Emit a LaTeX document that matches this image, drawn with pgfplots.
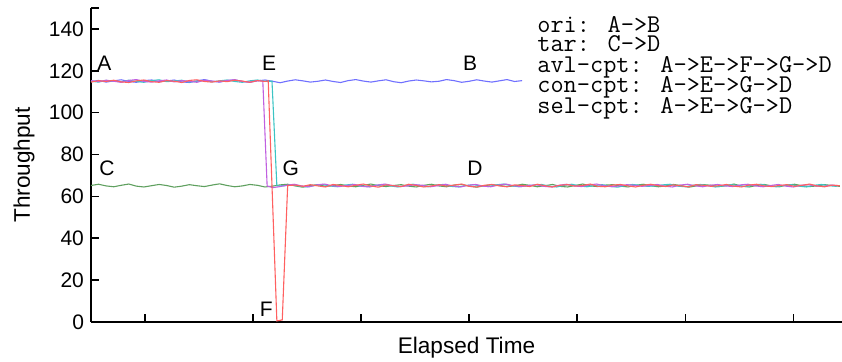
\documentclass[border=0pt]{standalone}
\usepackage{fontspec}
\setmainfont{Liberation Sans}
\usepackage{pgfplots}
\pgfplotsset{compat=1.18}
\definecolor{cori}{HTML}{7070FF}
\definecolor{ctar}{HTML}{5FA05F}
\definecolor{cavl}{HTML}{FF6060}
\definecolor{ccon}{HTML}{3CC4C4}
\definecolor{csel}{HTML}{C060E0}
\begin{document}
\begin{tikzpicture}
\begin{axis}[
  scale only axis, width=375.5pt, height=157pt,
  xmin=0, xmax=695, ymin=0, ymax=150,
  axis x line*=bottom, axis y line*=left,
  axis line style={line width=0.8pt, -},
  xtick={50,150,...,650}, xticklabels={},
  ytick={0,20,...,140}, extra y ticks={150}, extra y tick labels={},
  tick align=inside, major tick length=4pt,
  tick style={black, line width=0.8pt},
  /pgf/number format/assume math mode=true,
  ticklabel style={font=\fontsize{10.5}{12}\selectfont},
  ylabel={Throughput}, xlabel={Elapsed Time},
  label style={font=\fontsize{11.3}{13}\selectfont},
  ylabel style={at={(rel axis cs:0,0.5)}, anchor=center, yshift=33.5pt},
  xlabel style={at={(rel axis cs:0.5,0)}, anchor=base, yshift=-16pt},
  clip=false,
  every axis plot/.append style={line width=0.55pt, no markers},
]
% tar: C->D
\addplot[ctar] table {
0 65.2
7 65.8
14 65.0
21 64.6
28 65.3
35 65.9
42 64.9
49 64.5
56 65.1
63 65.7
70 65.2
77 64.4
84 64.9
91 65.6
98 65.1
105 64.7
112 65.4
119 66.0
126 65.2
133 64.6
140 65.0
147 65.7
154 65.3
161 64.5
168 64.9
175 65.5
182 65.8
189 65.0
196 64.4
203 65.2
210 65.6
217 64.8
224 65.1
231 65.7
238 65.0
245 64.6
252 65.3
259 65.9
266 65.1
273 64.7
280 65.2
287 65.6
294 64.9
301 64.5
308 65.3
315 65.8
322 65.0
329 64.6
336 65.4
343 65.7
350 64.9
357 64.4
364 65.1
371 65.6
378 65.2
385 64.7
392 65.0
399 65.8
406 65.3
413 64.6
420 65.1
427 65.7
434 64.8
441 64.5
448 65.2
455 65.9
462 65.0
469 64.7
476 65.4
483 65.6
490 64.9
497 64.5
504 65.3
511 65.8
518 65.1
525 64.6
532 65.0
539 65.7
546 65.2
553 64.4
560 65.0
567 65.6
574 65.3
581 64.7
588 65.1
595 65.9
602 64.9
609 64.5
616 65.2
623 65.7
630 65.0
637 64.6
644 65.4
651 65.8
658 65.1
665 64.7
672 65.0
679 65.6
686 65.2
693 64.8
};
% ori: A->B
\addplot[cori] table {
0 114.8
7 115.4
14 114.6
21 115.2
28 115.7
35 114.9
42 114.5
49 115.3
56 115.6
63 114.8
70 115.1
77 115.6
84 114.7
91 114.4
98 115.2
105 115.8
112 115.0
119 114.6
126 115.3
133 115.7
140 114.9
147 114.5
154 115.2
161 115.6
168 115.0
175 114.3
182 115.1
189 115.7
196 115.2
203 114.6
210 115.0
217 115.6
224 114.9
231 114.4
238 115.3
245 115.8
252 115.1
259 114.6
266 115.2
273 115.7
280 114.8
287 114.3
294 115.1
301 115.6
308 115.2
315 114.7
322 115.0
329 115.8
336 115.3
343 114.5
350 115.0
357 115.7
364 115.1
371 114.6
378 115.2
385 115.8
392 114.9
399 115.3
};
% con-cpt
\addplot[ccon] table {
0 115.0
7 114.6
14 115.4
21 115.1
28 114.7
35 115.5
42 114.9
49 114.5
56 115.3
63 115.7
70 114.8
77 115.1
84 115.5
91 114.6
98 115.0
105 115.4
112 114.7
119 115.2
126 115.6
133 114.9
140 114.5
147 115.2
154 115.6
161 115.0
167.5 115.0
172 65.0
179 65.1
186 65.6
193 64.9
200 64.5
207 65.2
214 65.7
221 65.0
228 64.6
235 65.4
242 65.8
249 64.9
256 64.7
263 65.3
270 65.6
277 65.0
284 64.5
291 65.2
298 65.8
305 65.1
312 64.6
319 65.4
326 65.7
333 64.8
340 64.5
347 65.2
354 65.6
361 65.0
368 64.7
375 65.5
382 65.9
389 65.1
396 64.6
403 65.0
410 65.4
417 65.7
424 64.9
431 64.5
438 65.3
445 65.8
452 65.0
459 64.6
466 65.2
473 65.6
480 64.9
487 64.4
494 65.1
501 65.7
508 65.3
515 64.8
522 65.0
529 65.5
536 65.8
543 64.9
550 64.6
557 65.3
564 65.7
571 65.1
578 64.5
585 65.0
592 65.6
599 65.2
606 64.7
613 65.4
620 65.8
627 65.0
634 64.6
641 65.2
648 65.6
655 64.9
662 64.5
669 65.3
676 65.7
683 65.1
690 64.8
};
% sel-cpt
\addplot[csel] table {
0 115.3
7 114.8
14 115.5
21 115.0
28 114.5
35 115.4
42 115.8
49 114.9
56 114.6
63 115.2
70 115.6
77 114.7
84 115.3
91 115.0
98 114.5
105 115.5
112 115.1
119 114.7
126 115.4
133 115.7
140 114.9
147 114.6
154 115.3
159 115.1
163 65.0
168 64.2
174 64.6
181 65.3
188 65.8
195 65.0
202 64.6
209 65.5
216 65.9
223 65.1
230 64.7
237 65.2
244 65.7
251 64.8
258 64.5
265 65.4
272 65.9
279 65.2
286 64.7
293 65.0
300 65.6
307 65.3
314 64.6
321 65.1
328 65.8
335 65.0
342 64.5
349 65.3
356 65.7
363 64.9
370 64.6
377 65.4
384 65.9
391 65.1
398 64.7
405 65.2
412 65.6
419 64.8
426 64.5
433 65.3
440 65.8
447 65.0
454 64.7
461 65.5
468 65.9
475 65.1
482 64.6
489 65.0
496 65.6
503 65.3
510 64.8
517 65.2
524 65.7
531 64.9
538 64.5
545 65.4
552 65.8
559 65.1
566 64.6
573 65.3
580 65.7
587 65.0
594 64.7
601 65.5
608 65.8
615 65.0
622 64.6
629 65.2
636 65.7
643 64.9
650 64.5
657 65.3
664 65.6
671 65.0
678 64.7
685 65.4
692 65.1
};
% avl-cpt
\addplot[cavl] table {
0 114.6
7 115.3
14 114.9
21 115.5
28 114.7
35 114.4
42 115.2
49 115.6
56 114.8
63 114.5
70 115.3
77 115.0
84 114.4
91 115.4
98 115.7
105 114.9
112 114.6
119 115.2
126 114.8
133 115.5
140 115.1
147 114.5
154 115.3
161 114.9
164 115.2
172 0.5
177 1.0
182 65.2
189 65.4
196 64.8
203 65.6
210 65.0
217 64.5
224 65.7
231 65.2
238 64.6
245 65.3
252 65.9
259 65.0
266 64.4
273 65.5
280 65.1
287 64.7
294 65.8
301 65.2
308 64.5
315 65.0
322 65.6
329 64.9
336 65.4
343 65.9
350 64.8
357 64.5
364 65.3
371 65.7
378 65.0
385 64.6
392 65.5
399 65.2
406 64.7
413 65.8
420 65.1
427 64.5
434 65.3
441 65.6
448 64.9
455 65.2
462 65.9
469 64.8
476 64.6
483 65.4
490 65.7
497 65.0
504 64.5
511 65.3
518 65.8
525 65.1
532 64.7
539 65.5
546 65.0
553 64.6
560 65.6
567 65.3
574 64.8
581 65.1
588 65.7
595 64.9
602 64.5
609 65.4
616 65.8
623 65.0
630 64.7
637 65.2
644 65.6
651 64.8
658 65.3
665 65.9
672 65.0
679 64.6
686 65.4
693 65.1
};
% point labels
\begin{scope}[every node/.style={anchor=base west, inner sep=0pt, font=\fontsize{10.5}{12}\selectfont}]
\node at (axis cs:5.5,120) {A};
\node at (axis cs:158,120) {E};
\node at (axis cs:344,120) {B};
\node at (axis cs:7.4,69.8) {C};
\node at (axis cs:177,69.8) {G};
\node at (axis cs:348,69.8) {D};
\node at (axis cs:156,2.4) {F};
\end{scope}
% legend text
\begin{scope}[every node/.style={anchor=base west, inner sep=0pt, font=\ttfamily\fontsize{12.8}{13}\selectfont}]
\node at (axis cs:412.7,138.5) {ori: A->B};
\node at (axis cs:412.7,129.0) {tar: C->D};
\node at (axis cs:412.7,119.2) {avl-cpt: A->E->F->G->D};
\node at (axis cs:412.7,109.4) {con-cpt: A->E->G->D};
\node at (axis cs:412.7,99.8) {sel-cpt: A->E->G->D};
\end{scope}
\path (rel axis cs:0,0) coordinate (sw) (rel axis cs:1,1) coordinate (ne);
\end{axis}
\pgfresetboundingbox
\useasboundingbox ([shift={(-45.5pt,-20pt)}]sw) rectangle ([shift={(0pt,4pt)}]ne);
\end{tikzpicture}
\end{document}
